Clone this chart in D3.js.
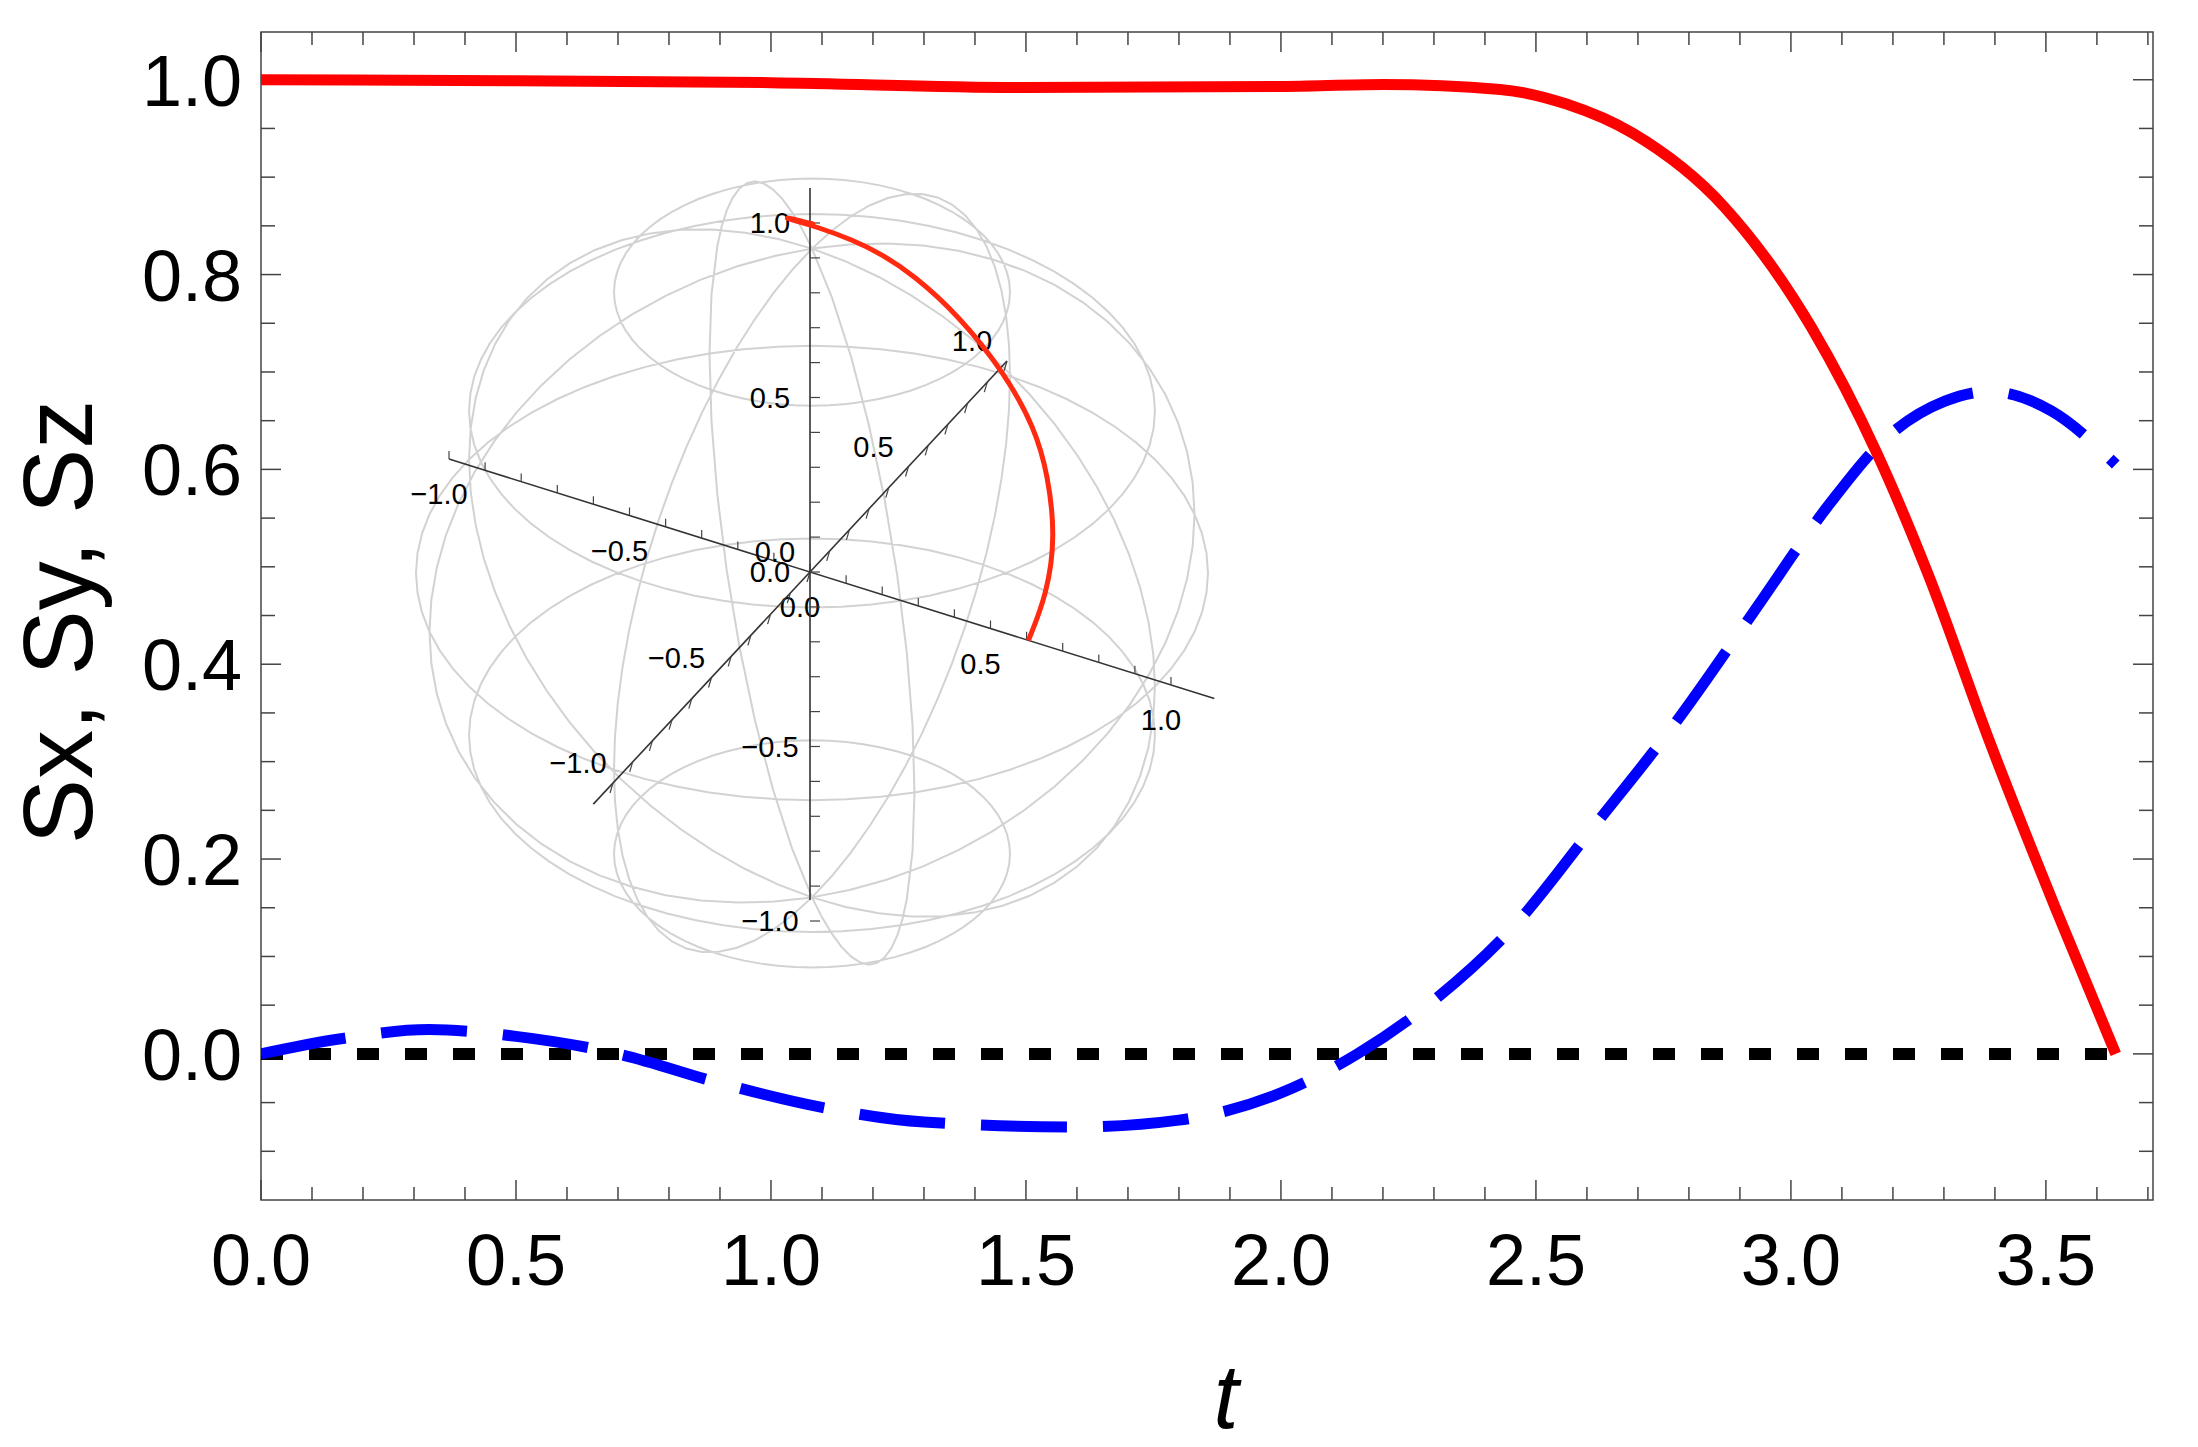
<!DOCTYPE html><html><head><meta charset="utf-8"><script src="https://cdn.jsdelivr.net/npm/d3@7"></script>
<style>body{margin:0;background:#fff}</style></head><body><svg id="c" width="2198" height="1447"></svg><script>
const tRed=[0,0.5,1,1.5,2,2.2,2.43,2.56,2.69,2.87,3.04,3.17,3.27,3.39,3.52,3.637];
const szVals=[1,0.999,0.997,0.992,0.993,0.995,0.99,0.975,0.945,0.869,0.746,0.615,0.491,0.32,0.148,0];
const tBlue=[0,0.15,0.33,0.5,0.7,0.9,1.1,1.3,1.6,1.8,2.0,2.15,2.3,2.455,2.613,2.778,2.926,3.075,3.18,3.302,3.389,3.511,3.637];
const sxVals=[0,0.015,0.025,0.018,0,-0.03,-0.055,-0.07,-0.075,-0.068,-0.04,0,0.055,0.13,0.233,0.343,0.453,0.564,0.629,0.67,0.68,0.66,0.605];
const syT=[0,3.637], syVals=[0,0];
const xTicks=[0,0.5,1,1.5,2,2.5,3,3.5], yTicks=[0,0.2,0.4,0.6,0.8,1.0];
const insetTicks=[-1,-0.5,0,0.5,1];

const svg=d3.select("#c");
const L=261,R=2153,T=32,B=1200;
const x=d3.scaleLinear().domain([0,3.71]).range([L,R]);
const y=d3.scaleLinear().domain([-0.150,1.049]).range([B,T]);
const F="Arial, 'Liberation Sans', sans-serif";

// inset (3D projection)
const O=[810,572],A=[361,113],Bv=[197,-211],Z=[0,-349];
const P=(a,b,c)=>[O[0]+a*A[0]+b*Bv[0]+c*Z[0],O[1]+a*A[1]+b*Bv[1]+c*Z[1]];
const g=svg.append("g");
const proj=d3.geoOrthographic().scale(396).translate([812,573]).rotate([15,-35,0]).clipAngle(180);
const gp=d3.geoPath(proj);
const grat=d3.geoGraticule().step([45,30]).extent([[-180,-90],[180,90]]).precision(5);
g.append("path").datum(grat()).attr("d",gp).attr("fill","none").attr("stroke","#d2d2d2").attr("stroke-width",2);
const ln=d3.line();
function axis3(p0,p1,tickDir,ticks,off){
  g.append("path").attr("d",ln([P(...p0),P(...p1)])).attr("stroke","#333").attr("stroke-width",1.6).attr("fill","none");
  const at=v=>P(...p0.map((c,i)=>c===0&&p1[i]===0?0:v));
  d3.range(-1,1.001,0.1).forEach(v=>{const pt=at(v);
    g.append("line").attr("x1",pt[0]).attr("y1",pt[1]).attr("x2",pt[0]+tickDir[0]).attr("y2",pt[1]+tickDir[1]).attr("stroke","#444").attr("stroke-width",1.2);});
  ticks.forEach(v=>{const pt=at(v);
    g.append("text").attr("x",pt[0]+off[0]).attr("y",pt[1]+off[1]).attr("text-anchor","middle").attr("font-family",F).attr("font-size",29).text(d3.format(".1f")(v).replace("-","−"));});
}
axis3([-1,0,0],[1.12,0,0],[0,-8],insetTicks,[-10,45]);
axis3([0,-1.1,0],[0,1,0],[-3,10],insetTicks,[-35,-10]);
axis3([0,0,-0.94],[0,0,1.1],[10,0],insetTicks,[-40,10]);
const sxAt=d3.scaleLinear().domain(tBlue).range(sxVals);
const curve=tRed.map((t,i)=>P(sxAt(t),0,szVals[i]));
g.append("path").attr("d",d3.line().curve(d3.curveBasis)(curve)).attr("fill","none").attr("stroke","#ff2a10").attr("stroke-width",5);

// frame + ticks
svg.append("rect").attr("x",L).attr("y",T).attr("width",R-L).attr("height",B-T).attr("fill","none").attr("stroke","#444").attr("stroke-width",1.5);
const tk=(x1,y1,x2,y2)=>svg.append("line").attr("x1",x1).attr("y1",y1).attr("x2",x2).attr("y2",y2).attr("stroke","#444").attr("stroke-width",1.5);
d3.range(0,3.71,0.1).forEach(v=>{const m=Math.abs(v*2-Math.round(v*2))<1e-6;const l=m?20:13;const px=x(v);tk(px,B,px,B-l);tk(px,T,px,T+l);});
d3.range(-0.1,1.049,0.05).forEach(v=>{const m=Math.abs(v*5-Math.round(v*5))<1e-6;const l=m?20:14;const py=y(v);tk(L,py,L+l,py);tk(R,py,R-l,py);});
xTicks.forEach(v=>svg.append("text").attr("x",x(v)).attr("y",1285).attr("text-anchor","middle").attr("font-family",F).attr("font-size",72).text(v.toFixed(1)));
yTicks.forEach(v=>svg.append("text").attr("x",242).attr("y",y(v)+26).attr("text-anchor","end").attr("font-family",F).attr("font-size",72).text(v.toFixed(1)));
svg.append("text").attr("transform",`translate(92,622) rotate(-90)`).attr("text-anchor","middle").attr("font-family",F).attr("font-size",98).text("Sx, Sy, Sz");
svg.append("text").attr("x",1226).attr("y",1428).attr("text-anchor","middle").attr("font-family",F).attr("font-style","italic").attr("font-size",90).text("t");

// series
svg.append("clipPath").attr("id","cp").append("rect").attr("x",L).attr("y",T).attr("width",R-L).attr("height",B-T);
const lineF=(ts,vs)=>d3.line().curve(d3.curveMonotoneX).x((d,i)=>x(ts[i])).y(d=>y(d))(vs);
const s=svg.append("g").attr("clip-path","url(#cp)");
s.append("path").attr("d",lineF(syT,syVals)).attr("fill","none").attr("stroke","#000").attr("stroke-width",12).attr("stroke-dasharray","22 26");
s.append("path").attr("d",lineF(tBlue,sxVals)).attr("fill","none").attr("stroke","#0000ff").attr("stroke-width",11).attr("stroke-dasharray","86 36");
s.append("path").attr("d",lineF(tRed,szVals)).attr("fill","none").attr("stroke","#ff0000").attr("stroke-width",11);
</script></body></html>
